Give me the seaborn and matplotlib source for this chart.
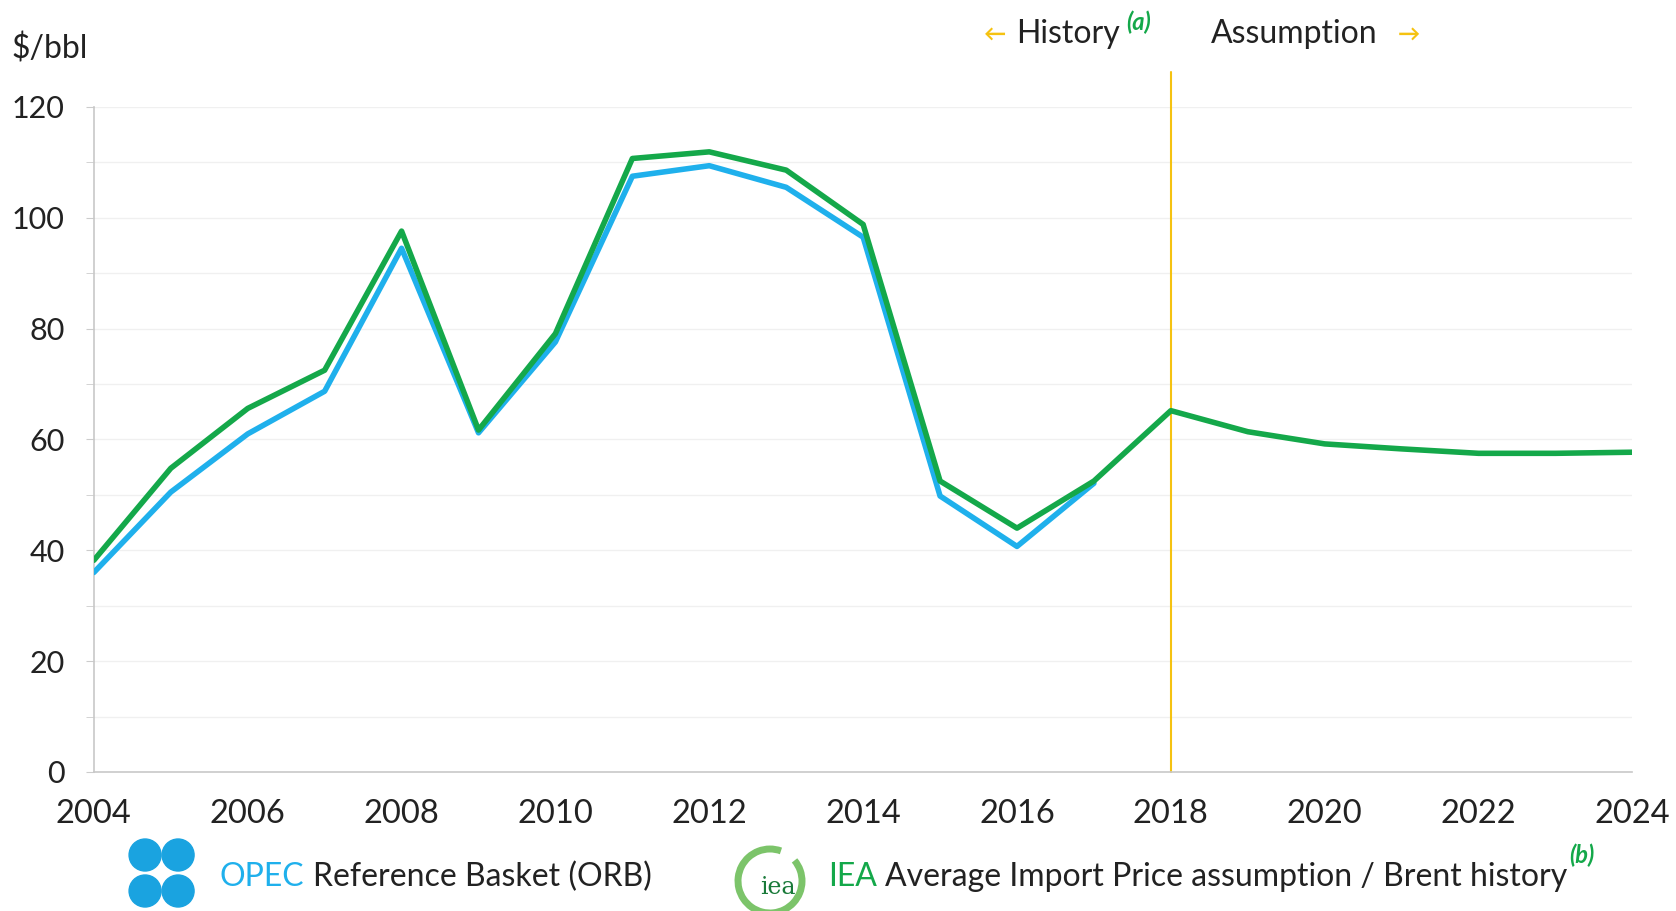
import numpy as np
import pandas as pd
import matplotlib.pyplot as plt
import seaborn as sns
from matplotlib.patches import Circle, Arc

years_orb = list(range(2004, 2018))
orb = [36, 50.5, 61, 68.7, 94.5, 61.2, 77.6, 107.5, 109.4, 105.5, 96.5, 49.8, 40.7, 52.1]

years_iea = list(range(2004, 2025))
iea = [38.2, 54.8, 65.6, 72.5, 97.6, 61.7, 79.1, 110.7, 111.9, 108.6, 98.8, 52.5, 44.0,
       52.5, 65.2, 61.4, 59.2, 58.3, 57.5, 57.5, 57.7]

x_ticks = list(range(2004, 2025, 2))
y_ticks = list(range(0, 121, 20))

BLUE = "#1fb0ec"
GREEN = "#14a84a"
YELLOW = "#f5c211"

sns.set_style("white")
plt.rcParams["font.family"] = ["Lato", "DejaVu Sans"]

fig = plt.figure(figsize=(16.76, 9.11), dpi=100)
ax = fig.add_axes([0.056, 0.1526, 0.918, 0.73])

df_orb = pd.DataFrame({"year": years_orb, "price": orb})
df_iea = pd.DataFrame({"year": years_iea, "price": iea})

# faint grid every 10
for v in range(10, 121, 10):
    ax.axhline(v, color="#f0f0f0", lw=1, zorder=0)

sns.lineplot(data=df_orb, x="year", y="price", color=BLUE, lw=4, ax=ax, zorder=3)
sns.lineplot(data=df_iea, x="year", y="price", color=GREEN, lw=4, ax=ax, zorder=4)

ax.axvline(2018, ymin=0, ymax=1.052, color=YELLOW, lw=1.5, clip_on=False, zorder=2)

ax.set_xlim(2004, 2024)
ax.set_ylim(0, 120)
ax.set_xticks(x_ticks)
ax.set_yticks(y_ticks)
ax.set_yticks(range(10, 121, 20), minor=True)
ax.set_xlabel("")
ax.set_ylabel("")
ax.tick_params(axis="both", colors="#222222", length=0)
ax.tick_params(axis="x", labelsize=23.5, pad=19.5)
ax.tick_params(axis="y", which="both", labelsize=22, left=True, length=6, color="#cccccc",
               direction="out", pad=15)
for s in ["top", "right"]:
    ax.spines[s].set_visible(False)
for s in ["left", "bottom"]:
    ax.spines[s].set_color("#c8c8c8")
    ax.spines[s].set_linewidth(1.2)

fig.text(0.007, 0.946, "$/bbl", fontsize=23, color="#222222", ha="left", va="center")

# history / assumption header
fig.text(0.587, 0.963, "\u2190", fontsize=16, color=YELLOW, ha="left", va="center", fontweight="bold")
fig.text(0.606, 0.963, "History", fontsize=23, color="#222222", ha="left", va="center")
fig.text(0.672, 0.976, "(a)", fontsize=17, color=GREEN, ha="left", va="center", style="italic", fontweight="bold")
fig.text(0.7226, 0.963, "Assumption", fontsize=23, color="#222222", ha="left", va="center")
fig.text(0.834, 0.963, "\u2192", fontsize=16, color=YELLOW, ha="left", va="center", fontweight="bold")

# legend with simple logo approximations
lax = fig.add_axes([0, 0, 1, 0.09])
lax.set_xlim(0, 1676)
lax.set_ylim(0, 82)
lax.set_aspect("equal")
lax.axis("off")
for cx, cy in [(145, 56), (178, 56), (145, 20), (178, 20)]:
    lax.add_patch(Circle((cx, cy), 16, color="#1aa3e0"))
lax.add_patch(Arc((770, 30), 64, 64, theta1=70, theta2=400, color="#7cc46a", lw=5))
lax.text(778, 24, "iea", fontsize=17, color="#1a7a3a", ha="center", va="center", family="DejaVu Serif")

fig.text(0.131, 0.037, "OPEC", fontsize=23, color=BLUE, ha="left", va="center")
fig.text(0.187, 0.037, "Reference Basket (ORB)", fontsize=23, color="#222222", ha="left", va="center")
fig.text(0.494, 0.037, "IEA", fontsize=23, color=GREEN, ha="left", va="center")
fig.text(0.528, 0.037, "Average Import Price assumption / Brent history", fontsize=23, color="#222222",
         ha="left", va="center")
fig.text(0.936, 0.061, "(b)", fontsize=17, color=GREEN, ha="left", va="center", style="italic", fontweight="bold")

fig.savefig("out.png", dpi=100)
